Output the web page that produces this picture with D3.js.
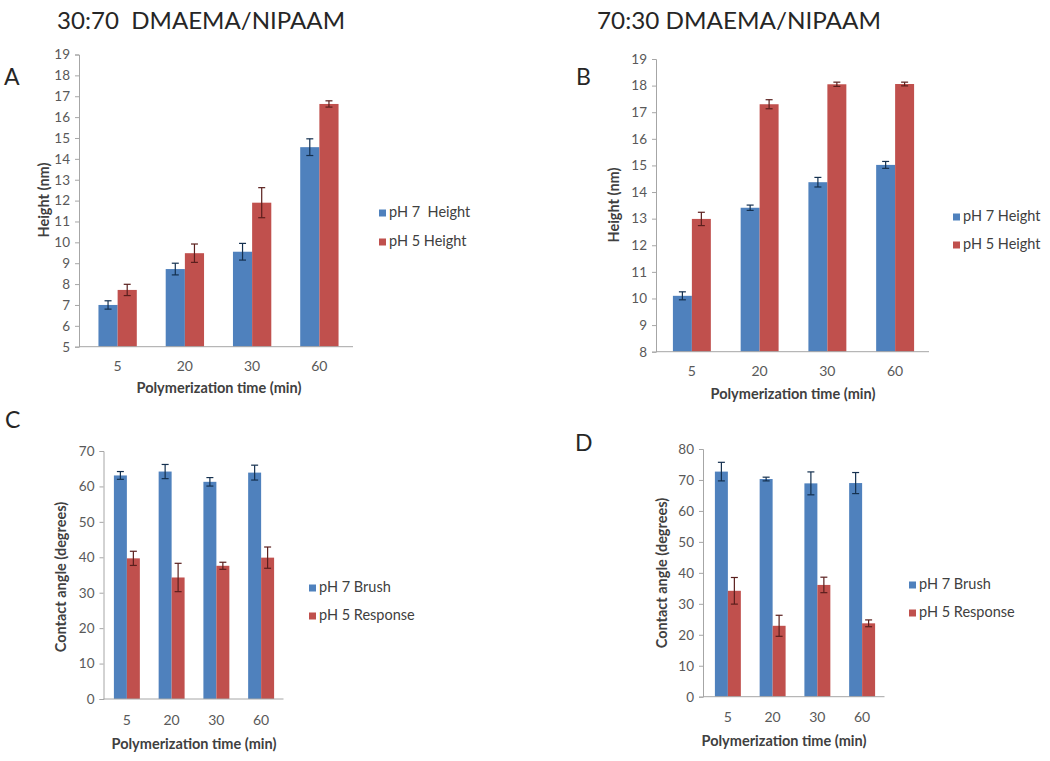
<!DOCTYPE html>
<html><head><meta charset="utf-8">
<script src="https://cdn.jsdelivr.net/npm/d3@7"></script>
<style>
body{margin:0;background:#fff;}
svg{display:block;font-family:Lato,"Open Sans",sans-serif;}
text{white-space:pre;}
</style></head>
<body><svg id="chart" width="1050" height="761"></svg>
<script>
// ---- data ----
const categories = ["5", "20", "30", "60"];

const aPH7Height = [7.0, 8.72, 9.55, 14.56];
const aPH7Err    = [0.2, 0.28, 0.4, 0.4];
const aPH5Height = [7.72, 9.48, 11.9, 16.63];
const aPH5Err    = [0.27, 0.44, 0.72, 0.15];

const bPH7Height = [10.1, 13.41, 14.37, 15.02];
const bPH7Err    = [0.15, 0.1, 0.18, 0.13];
const bPH5Height = [12.99, 17.3, 18.05, 18.06];
const bPH5Err    = [0.25, 0.17, 0.08, 0.07];

const cPH7Brush    = [63.1, 64.2, 61.3, 63.9];
const cPH7BrushErr = [1.1, 2.0, 1.2, 2.1];
const cPH5Resp     = [39.7, 34.3, 37.6, 39.9];
const cPH5RespErr  = [2.0, 4.0, 1.0, 3.0];

const dPH7Brush    = [72.7, 70.3, 68.9, 69.0];
const dPH7BrushErr = [3.0, 0.6, 3.7, 3.4];
const dPH5Resp     = [34.2, 22.9, 36.1, 23.7];
const dPH5RespErr  = [4.3, 3.4, 2.5, 1.1];

const ticksA = d3.range(5, 20, 1);
const ticksB = d3.range(8, 20, 1);
const ticksC = d3.range(0, 71, 10);
const ticksD = d3.range(0, 81, 10);

const legendA  = ["pH 7  Height", "pH 5 Height"];
const legendB  = ["pH 7 Height", "pH 5 Height"];
const legendCD = ["pH 7 Brush", "pH 5 Response"];
const xTitle = "Polymerization time (min)";

// ---- styles ----
const BLUE = "#4F81BD", RED = "#C0504D";
const BLUE_ERR = "#14304f", RED_ERR = "#5a1f1d";
const AXIS = "#a6a6a6", TXT = "#404040", TICKTXT = "#595959";

const svg = d3.select("#chart");

// headings
svg.append("text").attr("x", 57).attr("y", 29).attr("font-size", 23).attr("fill", "#262626")
  .attr("textLength", 288).attr("lengthAdjust", "spacingAndGlyphs")
  .text("30:70  DMAEMA/NIPAAM");
svg.append("text").attr("x", 597).attr("y", 29).attr("font-size", 23).attr("fill", "#262626")
  .attr("textLength", 284).attr("lengthAdjust", "spacingAndGlyphs")
  .text("70:30 DMAEMA/NIPAAM");
[["A", 4, 85], ["B", 576, 85], ["C", 5, 428], ["D", 575, 451]].forEach(([t, x, y]) =>
  svg.append("text").attr("x", x).attr("y", y).attr("font-size", 23).attr("fill", "#262626").text(t));

const panels = [
  {s1: aPH7Height, e1: aPH7Err, s2: aPH5Height, e2: aPH5Err, ticks: ticksA, dom: [5, 19],
   yAxisX: 79, xr: [84, 353], yr: [346.7, 54.5], pad: 0.43, ytitle: "Height (nm)", ytx: 45, yty: 200,
   catY: 371, xtY: 393, xtX: 219, legend: legendA, legX: 379, legY: 213, legGap: 29},
  {s1: bPH7Height, e1: bPH7Err, s2: bPH5Height, e2: bPH5Err, ticks: ticksB, dom: [8, 19],
   yAxisX: 656, xr: [658, 929], yr: [351.7, 59], pad: 0.44, ytitle: "Height (nm)", ytx: 615, yty: 205,
   catY: 376, xtY: 399, xtX: 793, legend: legendB, legX: 953, legY: 217, legGap: 28},
  {s1: cPH7Brush, e1: cPH7BrushErr, s2: cPH5Resp, e2: cPH5RespErr, ticks: ticksC, dom: [0, 70],
   yAxisX: 103.5, xr: [104.5, 283.5], yr: [699, 451], pad: 0.42, ytitle: "Contact angle (degrees)", ytx: 62, yty: 577,
   catY: 725, xtY: 749, xtX: 194, legend: legendCD, legX: 309, legY: 588, legGap: 28},
  {s1: dPH7Brush, e1: dPH7BrushErr, s2: dPH5Resp, e2: dPH5RespErr, ticks: ticksD, dom: [0, 80],
   yAxisX: 703, xr: [705.5, 884.5], yr: [696.7, 449], pad: 0.42, ytitle: "Contact angle (degrees)", ytx: 663, yty: 573,
   catY: 722, xtY: 746, xtX: 784, legend: legendCD, legX: 909, legY: 585, legGap: 28}
];

panels.forEach(p => {
  const g = svg.append("g");
  const x = d3.scaleBand().domain(categories).range(p.xr).paddingInner(p.pad).paddingOuter(p.pad / 2);
  const xs = d3.scaleBand().domain([0, 1]).range([0, x.bandwidth()]);
  const y = d3.scaleLinear().domain(p.dom).range(p.yr);

  // y axis
  const yAx = g.append("g").attr("transform", `translate(${p.yAxisX},0)`)
    .call(d3.axisLeft(y).tickValues(p.ticks).tickSize(4).tickPadding(5).tickFormat(d3.format("d")));
  yAx.select(".domain").attr("stroke", AXIS);
  yAx.selectAll(".tick line").attr("stroke", AXIS);
  yAx.selectAll("text").attr("font-size", 13.5).attr("fill", TICKTXT).attr("font-family", "Lato");

  // bars with error bars
  const series = [{v: p.s1, e: p.e1, c: BLUE, ec: BLUE_ERR}, {v: p.s2, e: p.e2, c: RED, ec: RED_ERR}];
  series.forEach((s, si) => {
    categories.forEach((cat, i) => {
      const bx = x(cat) + xs(si);
      g.append("rect").attr("x", bx).attr("y", y(s.v[i]))
        .attr("width", xs.bandwidth()).attr("height", y(p.dom[0]) - y(s.v[i])).attr("fill", s.c);
      const cx = bx + xs.bandwidth() / 2;
      const yt = y(s.v[i] + s.e[i]), yb = y(s.v[i] - s.e[i]);
      g.append("line").attr("x1", cx).attr("x2", cx).attr("y1", yt).attr("y2", yb).attr("stroke", s.ec).attr("stroke-width", 1.2);
      [yt, yb].forEach(yy => g.append("line").attr("x1", cx - 3.5).attr("x2", cx + 3.5).attr("y1", yy).attr("y2", yy)
        .attr("stroke", s.ec).attr("stroke-width", 1.2));
    });
  });

  // x axis baseline
  g.append("line").attr("x1", p.yAxisX).attr("x2", p.xr[1]).attr("y1", y(p.dom[0])).attr("y2", y(p.dom[0]))
    .attr("stroke", AXIS);
  categories.forEach(cat => g.append("text").attr("x", x(cat) + x.bandwidth() / 2).attr("y", p.catY)
    .attr("text-anchor", "middle").attr("font-size", 14).attr("fill", TICKTXT).text(cat));

  // axis titles
  g.append("text").attr("x", p.xtX).attr("y", p.xtY).attr("text-anchor", "middle")
    .attr("font-size", 14.5).attr("font-weight", "bold").attr("fill", TXT).text(xTitle);
  g.append("text").attr("transform", `translate(${p.ytx},${p.yty}) rotate(-90)`).attr("text-anchor", "middle")
    .attr("dominant-baseline", "middle")
    .attr("font-size", 14.5).attr("font-weight", "bold").attr("fill", TXT).text(p.ytitle);

  // legend
  p.legend.forEach((t, i) => {
    const ly = p.legY + i * p.legGap;
    g.append("rect").attr("x", p.legX).attr("y", ly - 3.5).attr("width", 7).attr("height", 7)
      .attr("fill", i === 0 ? BLUE : RED);
    g.append("text").attr("x", p.legX + 10).attr("y", ly).attr("dominant-baseline", "middle")
      .attr("font-size", 14.5).attr("fill", TXT).text(t);
  });
});
</script></body></html>
